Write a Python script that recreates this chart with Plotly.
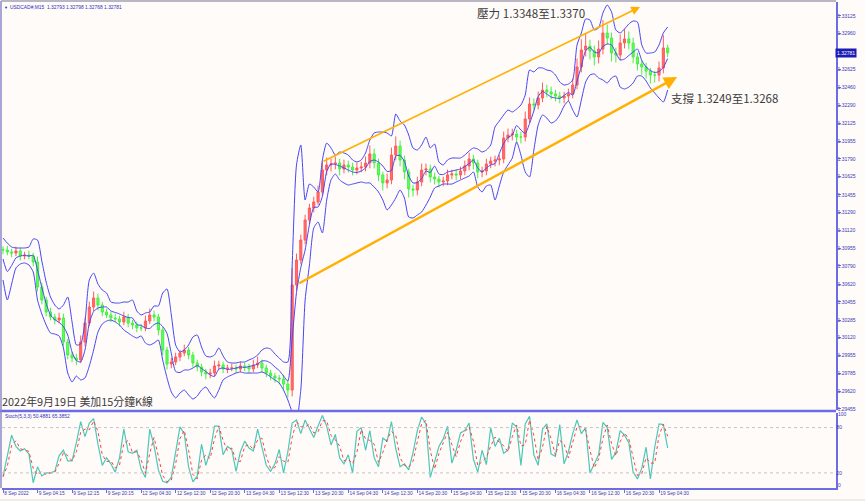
import numpy as np
import pandas as pd
import plotly.graph_objects as go

# ---------------- data (hourly bars) ----------------
first_open = 1.30945
close = [
    1.30939, 1.30920, 1.30911, 1.30930, 1.30883, 1.30892, 1.30883, 1.30827, 1.30593, 1.30472,
    1.30360, 1.30313, 1.30285, 1.30304, 1.30080, 1.29958, 1.29930, 1.29912, 1.30080, 1.30257,
    1.30407, 1.30491, 1.30425, 1.30360, 1.30332, 1.30304, 1.30295, 1.30267, 1.30313, 1.30257,
    1.30239, 1.30211, 1.30211, 1.30276, 1.30332, 1.30313, 1.30192, 1.30005, 1.29874, 1.29893,
    1.29940, 1.29977, 1.30005, 1.29958, 1.29884, 1.29846, 1.29799, 1.29781, 1.29790, 1.29856,
    1.29865, 1.29828, 1.29837, 1.29837, 1.29828, 1.29856, 1.29846, 1.29828, 1.29865, 1.29884,
    1.29837, 1.29790, 1.29762, 1.29743, 1.29734, 1.29687, 1.29631, 1.30612, 1.30846, 1.31032,
    1.31219, 1.31331, 1.31387, 1.31481, 1.31686, 1.31733, 1.31742, 1.31752, 1.31696, 1.31733,
    1.31714, 1.31686, 1.31705, 1.31714, 1.31752, 1.31836, 1.31752, 1.31640, 1.31565, 1.31593,
    1.31826, 1.31910, 1.31780, 1.31668, 1.31509, 1.31499, 1.31574, 1.31686, 1.31696, 1.31621,
    1.31602, 1.31574, 1.31584, 1.31640, 1.31649, 1.31640, 1.31677, 1.31724, 1.31789, 1.31752,
    1.31668, 1.31677, 1.31742, 1.31770, 1.31780, 1.31789, 1.31985, 1.32013, 1.32022, 1.31994,
    1.31994, 1.32163, 1.32303, 1.32293, 1.32359, 1.32433, 1.32415, 1.32396, 1.32377, 1.32359,
    1.32377, 1.32396, 1.32480, 1.32648, 1.32807, 1.32844, 1.32798, 1.32742, 1.32816, 1.32966,
    1.32919, 1.32779, 1.32760, 1.32872, 1.32910, 1.32872, 1.32742, 1.32676, 1.32648, 1.32611,
    1.32573, 1.32573, 1.32639, 1.32826, 1.32781,
]
wick_up_pips = [
    3, 4, 3, 4, 3, 3, 4, 3, 5, 4,
    3, 4, 3, 5, 4, 3, 3, 4, 6, 5,
    5, 6, 4, 3, 3, 3, 4, 3, 5, 3,
    3, 3, 4, 5, 6, 4, 3, 3, 3, 4,
    4, 3, 5, 3, 3, 3, 3, 3, 4, 5,
    4, 3, 3, 4, 3, 4, 3, 3, 5, 6,
    3, 3, 3, 3, 3, 4, 4, 16, 6, 5,
    5, 4, 5, 6, 8, 7, 5, 6, 4, 5,
    4, 4, 5, 5, 6, 8, 5, 4, 3, 6,
    7, 9, 5, 4, 3, 4, 5, 6, 5, 4,
    4, 3, 4, 5, 4, 4, 4, 5, 6, 4,
    3, 4, 5, 4, 4, 4, 6, 6, 5, 4,
    5, 7, 6, 5, 6, 7, 5, 5, 4, 4,
    4, 5, 6, 8, 10, 12, 6, 5, 8, 12,
    8, 5, 5, 8, 9, 7, 5, 4, 4, 4,
    3, 4, 6, 12, 3,
]
wick_dn_pips = [
    4, 3, 4, 3, 4, 3, 3, 4, 4, 4,
    4, 3, 4, 3, 4, 4, 4, 5, 3, 4,
    3, 4, 5, 4, 3, 4, 3, 4, 3, 4,
    4, 4, 3, 3, 3, 4, 5, 5, 5, 4,
    3, 4, 3, 4, 4, 4, 4, 5, 4, 3,
    4, 4, 4, 3, 4, 3, 4, 4, 3, 3,
    4, 4, 4, 4, 5, 5, 7, 6, 5, 4,
    4, 4, 4, 3, 4, 5, 6, 5, 6, 4,
    5, 5, 4, 4, 4, 5, 5, 6, 7, 5,
    4, 5, 6, 7, 8, 6, 5, 4, 5, 5,
    5, 5, 4, 4, 4, 5, 4, 4, 4, 6,
    6, 5, 4, 4, 5, 5, 4, 4, 5, 6,
    6, 4, 4, 5, 4, 4, 5, 5, 5, 5,
    5, 5, 4, 4, 5, 6, 8, 8, 6, 5,
    6, 8, 7, 5, 5, 6, 6, 6, 7, 7,
    8, 7, 6, 5, 4,
]
bb_upper = [
    1.31051, 1.31004, 1.30967, 1.30958, 1.30958, 1.30958, 1.30967, 1.31042, 1.31032, 1.30836,
    1.30640, 1.30500, 1.30425, 1.30388, 1.30425, 1.30500, 1.30267, 1.30052, 1.30061, 1.30267,
    1.30659, 1.30724, 1.30621, 1.30565, 1.30537, 1.30453, 1.30444, 1.30444, 1.30453, 1.30453,
    1.30472, 1.30369, 1.30332, 1.30351, 1.30360, 1.30416, 1.30416, 1.30537, 1.30575, 1.30332,
    1.30052, 1.29986, 1.30005, 1.30052, 1.30126, 1.30145, 1.30033, 1.29949, 1.29940, 1.29958,
    1.30024, 1.29949, 1.29893, 1.29884, 1.29884, 1.29893, 1.29893, 1.29912, 1.29930, 1.29958,
    1.30005, 1.30024, 1.30014, 1.29968, 1.29930, 1.29893, 1.29893, 1.30799, 1.31733, 1.31920,
    1.31406, 1.31555, 1.31527, 1.31481, 1.31780, 1.31938, 1.31892, 1.31826, 1.31854, 1.31845,
    1.31826, 1.31780, 1.31761, 1.31780, 1.31845, 1.31966, 1.32032, 1.32041, 1.32041, 1.32032,
    1.32004, 1.32209, 1.32144, 1.32107, 1.32013, 1.31892, 1.31873, 1.31920, 1.31994, 1.31892,
    1.31929, 1.31761, 1.31733, 1.31780, 1.31798, 1.31798, 1.31798, 1.31826, 1.31864, 1.31892,
    1.31882, 1.31854, 1.31873, 1.31920, 1.32088, 1.32144, 1.32200, 1.32247, 1.32228, 1.32256,
    1.32293, 1.32387, 1.32620, 1.32602, 1.32639, 1.32639, 1.32620, 1.32611, 1.32574, 1.32508,
    1.32480, 1.32489, 1.32527, 1.32854, 1.32966, 1.33097, 1.33087, 1.32994, 1.33013, 1.33153,
    1.33227, 1.33162, 1.32994, 1.32966, 1.33003, 1.33050, 1.33078, 1.33069, 1.32854, 1.32779,
    1.32779, 1.32788, 1.32854, 1.32966, 1.33022,
]
bb_lower = [
    1.30659, 1.30472, 1.30621, 1.30771, 1.30808, 1.30818, 1.30799, 1.30734, 1.30472, 1.30341,
    1.30239, 1.30164, 1.30154, 1.30136, 1.30024, 1.29790, 1.29706, 1.29762, 1.29725, 1.29744,
    1.29856, 1.30005, 1.30173, 1.30248, 1.30276, 1.30285, 1.30267, 1.30239, 1.30192, 1.30164,
    1.30136, 1.30117, 1.30136, 1.30070, 1.30052, 1.30070, 1.30098, 1.29912, 1.29744, 1.29613,
    1.29557, 1.29603, 1.29631, 1.29585, 1.29547, 1.29575, 1.29631, 1.29659, 1.29603, 1.29557,
    1.29631, 1.29725, 1.29753, 1.29772, 1.29790, 1.29800, 1.29790, 1.29790, 1.29790, 1.29790,
    1.29800, 1.29781, 1.29753, 1.29725, 1.29697, 1.29631, 1.29538, 1.29426, 1.29351, 1.29631,
    1.30472, 1.30799, 1.31144, 1.31200, 1.31098, 1.31406, 1.31593, 1.31649, 1.31593, 1.31565,
    1.31546, 1.31555, 1.31565, 1.31574, 1.31565, 1.31565, 1.31527, 1.31481, 1.31406, 1.31313,
    1.31359, 1.31425, 1.31499, 1.31425, 1.31247, 1.31238, 1.31266, 1.31294, 1.31359, 1.31434,
    1.31518, 1.31537, 1.31555, 1.31555, 1.31555, 1.31574, 1.31593, 1.31612, 1.31630, 1.31668,
    1.31527, 1.31481, 1.31537, 1.31546, 1.31406, 1.31537, 1.31668, 1.31733, 1.31798, 1.31948,
    1.31826, 1.31668, 1.31621, 1.31873, 1.32107, 1.32200, 1.32172, 1.32125, 1.32144, 1.32200,
    1.32284, 1.32331, 1.32247, 1.32181, 1.32340, 1.32508, 1.32574, 1.32583, 1.32546, 1.32527,
    1.32499, 1.32546, 1.32564, 1.32461, 1.32443, 1.32461, 1.32499, 1.32564, 1.32564, 1.32518,
    1.32452, 1.32405, 1.32359, 1.32321, 1.32433,
]
stoch_main = [
    15, 43, 70, 55, 49, 52, 45, 7, 28, 16,
    20, 20, 22, 43, 50, 36, 36, 60, 88, 68,
    86, 92, 58, 30, 40, 32, 21, 40, 78, 48,
    46, 50, 25, 14, 78, 56, 24, 9, 7, 14,
    50, 81, 72, 28, 8, 16, 58, 30, 48, 82,
    82, 44, 55, 51, 22, 48, 62, 53, 49, 78,
    54, 30, 22, 32, 51, 20, 48, 86, 90, 72,
    90, 79, 67, 82, 96, 82, 57, 71, 40, 32,
    44, 20, 75, 80, 50, 76, 40, 28, 66, 62,
    88, 52, 28, 32, 24, 47, 76, 94, 85, 14,
    36, 55, 65, 82, 33, 50, 73, 76, 86, 38,
    21, 50, 31, 80, 55, 66, 46, 50, 86, 81,
    30, 85, 95, 44, 30, 78, 85, 45, 42, 84,
    32, 48, 72, 90, 72, 80, 20, 33, 44, 87,
    80, 38, 47, 76, 70, 60, 21, 12, 26, 54,
    12, 54, 85, 84, 53,
]
tick_labels = [
    "8 Sep 2022", "9 Sep 04:15", "9 Sep 12:15", "9 Sep 20:15", "12 Sep 04:30",
    "12 Sep 12:30", "12 Sep 20:30", "13 Sep 04:30", "13 Sep 12:30", "13 Sep 20:30",
    "14 Sep 04:30", "14 Sep 12:30", "14 Sep 20:30", "15 Sep 04:30", "15 Sep 12:30",
    "15 Sep 20:30", "16 Sep 04:30", "16 Sep 12:30", "16 Sep 20:30", "19 Sep 04:30",
]
price_ticks = [1.33125, 1.32960, 1.32625, 1.32460, 1.32290, 1.32125, 1.31955, 1.31790,
               1.31625, 1.31455, 1.31290, 1.31120, 1.30955, 1.30790, 1.30620, 1.30455,
               1.30285, 1.30120, 1.29955, 1.29785, 1.29620, 1.29455]
last_price = 1.32781
# trend channel lines: (bar, price) start -> arrow tip
resist_line = [(73.9, 1.31761), (147.6, 1.33209)]
support_line = [(68.3, 1.30621), (156.2, 1.32555)]

assert len(close) == len(wick_up_pips) == len(wick_dn_pips) == len(bb_upper) == len(bb_lower) == len(stoch_main)

# ---------------- derived series ----------------
n = len(close)
x = np.arange(n)
c = np.array(close)
o = np.concatenate([[first_open], c[:-1]])
hi = np.maximum(o, c) + np.array(wick_up_pips) * 0.0001
lo = np.minimum(o, c) - np.array(wick_dn_pips) * 0.0001
up = np.array(bb_upper)
lw = np.array(bb_lower)
mid = (up + lw) / 2
k = pd.Series(stoch_main, dtype=float)
sig = k.rolling(2, min_periods=1).mean()

# ---------------- figure ----------------
W, Hh = 865, 501
ML, MR, MT, MB = 2, 29, 2, 13
PW, PH = W - ML - MR, Hh - MT - MB


def pxx(px):
    return (px - ML) / PW


def pxy(py):
    return (Hh - MB - py) / PH


AX = "#6c6ce4"
TXT = "#3a3ab4"
BG = "#fffbf9"

fig = go.Figure()

for arr in (up, mid, lw):
    fig.add_trace(go.Scatter(x=x, y=arr, mode="lines",
                             line=dict(color="#4646f5", width=1, shape="spline", smoothing=0.6),
                             hoverinfo="skip", showlegend=False, xaxis="x", yaxis="y"))

fig.add_trace(go.Candlestick(
    x=x, open=o, high=hi, low=lo, close=c,
    increasing=dict(line=dict(color="#ff5c5c", width=1), fillcolor="#ff6a6a"),
    decreasing=dict(line=dict(color="#46f046", width=1), fillcolor="#5cff5c"),
    whiskerwidth=0, showlegend=False, xaxis="x", yaxis="y"))

fig.add_trace(go.Scatter(x=x, y=k, mode="lines", line=dict(color="#4cc8b8", width=1.2),
                         showlegend=False, xaxis="x2", yaxis="y2"))
fig.add_trace(go.Scatter(x=x, y=sig, mode="lines", line=dict(color="#ff4040", width=1, dash="dot"),
                         showlegend=False, xaxis="x2", yaxis="y2"))

xr = [(ML - 3) / 4.316, (W - MR - 3) / 4.316]
main_top, main_bot = 2, 410
p_of = lambda py: 1.33274 - 0.0000934 * py
stoch_top, stoch_bot = 412.5, 488

fig.update_layout(
    width=W, height=Hh, margin=dict(l=ML, r=MR, t=MT, b=MB),
    paper_bgcolor=BG, plot_bgcolor=BG, hovermode=False,
    font=dict(family="Liberation Sans, Arial", size=5, color=TXT),
    xaxis=dict(domain=[0, 1], range=xr, anchor="y", showticklabels=False, showgrid=False,
               zeroline=False, rangeslider=dict(visible=False), showline=False),
    xaxis2=dict(domain=[0, 1], range=xr, anchor="y2", matches="x", showgrid=False, zeroline=False,
                tickvals=[8 * i for i in range(len(tick_labels))], ticktext=tick_labels,
                ticks="outside", ticklen=3, tickcolor=AX, showline=True, linecolor=AX, linewidth=1.5,
                tickangle=0, ticklabelposition="outside right", tickfont=dict(size=4.8, color=TXT)),
    yaxis=dict(domain=[pxy(main_bot), pxy(main_top)], range=[p_of(main_bot), p_of(main_top)],
               side="right", anchor="x", showgrid=False, zeroline=False,
               tickvals=price_ticks, ticktext=[f"{v:.5f}" for v in price_ticks],
               ticks="outside", ticklen=3, tickcolor=AX, showline=True, linecolor=AX, linewidth=1.5,
               ticklabelstandoff=-4, tickfont=dict(size=5, color=TXT)),
    yaxis2=dict(domain=[pxy(stoch_bot), pxy(stoch_top)], range=[0, 100],
                side="right", anchor="x2", showgrid=False, zeroline=False,
                tickvals=[20, 80], ticktext=["20", "80"],
                ticks="", showline=True, linecolor=AX, linewidth=1.5,
                ticklabelstandoff=-2, tickfont=dict(size=5, color=TXT)),
)

shapes = []
shapes.append(dict(type="line", xref="paper", yref="paper", x0=pxx(0), x1=pxx(836), y0=pxy(411), y1=pxy(411),
                   line=dict(color=AX, width=2.5)))
shapes.append(dict(type="line", xref="paper", yref="paper", x0=pxx(1), x1=pxx(1), y0=pxy(488), y1=pxy(1),
                   line=dict(color="#8a8ac8", width=1.5)))
shapes.append(dict(type="line", xref="paper", yref="paper", x0=pxx(1), x1=pxx(836), y0=pxy(1), y1=pxy(1),
                   line=dict(color="#a0a0b0", width=1.5)))
shapes.append(dict(type="rect", xref="paper", yref="paper", x0=pxx(0), x1=pxx(865), y0=pxy(501), y1=pxy(499),
                   line=dict(width=0), fillcolor="#ececec", layer="below"))
for lvl in (20, 80):
    shapes.append(dict(type="line", xref="paper", yref="y2", x0=0, x1=1, y0=lvl, y1=lvl,
                       line=dict(color="#c4c4c4", width=1, dash="dot")))
fig.update_layout(shapes=shapes)

ann = []
ORANGE = "#ffb000"
for (p0, p1), wdt in ((resist_line, 1.6), (support_line, 2.4)):
    ann.append(dict(x=p1[0], y=p1[1], ax=p0[0], ay=p0[1], xref="x", yref="y", axref="x", ayref="y",
                    showarrow=True, arrowhead=2, arrowsize=1.1, arrowwidth=wdt, arrowcolor=ORANGE, text=""))
ann.append(dict(xref="paper", yref="paper", x=pxx(2), y=pxy(7), text="▼", showarrow=False,
                xanchor="left", yanchor="middle", font=dict(size=4, color="#2020b0")))
ann.append(dict(xref="paper", yref="paper", x=pxx(8), y=pxy(7),
                text="USDCAD#,M15  1.32793 1.32798 1.32768 1.32781", showarrow=False,
                xanchor="left", yanchor="middle", font=dict(size=4.9, color="#3030c0")))
ann.append(dict(xref="paper", yref="paper", x=pxx(3), y=pxy(416),
                text="Stoch(5,3,3) 50.4881 65.3852", showarrow=False,
                xanchor="left", yanchor="middle", font=dict(size=4.9, color="#3030c0")))
ann.append(dict(xref="paper", yref="paper", x=pxx(836), y=pxy(414), text="100", showarrow=False,
                xanchor="left", yanchor="middle", font=dict(size=5, color=TXT)))
ann.append(dict(xref="paper", yref="paper", x=pxx(836), y=pxy(485), text="0", showarrow=False,
                xanchor="left", yanchor="middle", font=dict(size=5, color=TXT)))
CJK = "Noto Sans CJK TC, Noto Sans CJK SC, sans-serif"
ann.append(dict(xref="paper", yref="paper", x=pxx(0), y=pxy(401),
                text="2022年9月19日 美加15分鐘K線", showarrow=False, align="left",
                xanchor="left", yanchor="middle", font=dict(size=10.9, color="#3c3c3c", family=CJK)))
ann.append(dict(xref="paper", yref="paper", x=pxx(475), y=pxy(13),
                text="壓力 1.3348至1.3370", showarrow=False, align="left",
                xanchor="left", yanchor="middle", font=dict(size=11.6, color="#3c3c3c", family=CJK)))
ann.append(dict(xref="paper", yref="paper", x=pxx(669), y=pxy(98),
                text="支撐 1.3249至1.3268", showarrow=False, align="left",
                xanchor="left", yanchor="middle", font=dict(size=11.5, color="#3c3c3c", family=CJK)))
ann.append(dict(xref="paper", yref="y", x=pxx(835), y=last_price, text="1.32781", showarrow=False,
                xanchor="left", yanchor="middle", bgcolor="#1c1cb4", borderpad=1,
                font=dict(size=5, color="#ffffff")))
fig.update_layout(annotations=ann)

fig.write_html("out.html", config={"displayModeBar": False, "staticPlot": True},
               post_script="document.body.style.margin='0px';document.body.style.background='#fffbf9';")
